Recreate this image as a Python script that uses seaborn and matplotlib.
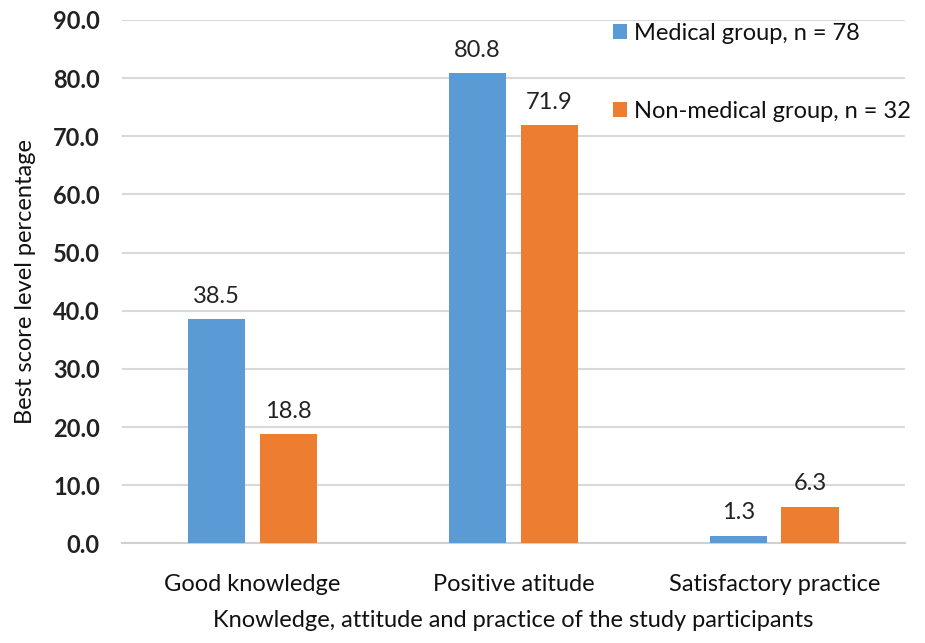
import numpy as np
import pandas as pd
import seaborn as sns
import matplotlib.pyplot as plt

categories = ["Good knowledge", "Positive atitude", "Satisfactory practice"]
groups = ["Medical group, n = 78", "Non-medical group, n = 32"]
medical = [38.5, 80.8, 1.3]
non_medical = [18.8, 71.9, 6.3]
yticks = [0, 10, 20, 30, 40, 50, 60, 70, 80, 90]

df = pd.DataFrame({
    "category": categories * 2,
    "group": [groups[0]] * 3 + [groups[1]] * 3,
    "value": medical + non_medical,
})

sns.set_theme(style="white")
plt.rcParams["font.family"] = ["Lato", "DejaVu Sans"]
fs = 17

fig = plt.figure(figsize=(9.25, 6.43), dpi=100)
ax = fig.add_axes([0.132, 0.155, 0.846, 0.814])

sns.barplot(data=df, x="category", y="value", hue="group",
            palette=["#5B9BD5", "#ED7D31"], width=0.55, gap=0.2,
            saturation=1, linewidth=0, ax=ax, zorder=3)

for cont in ax.containers:
    ax.bar_label(cont, fmt="%.1f", padding=9, fontsize=fs, color="#222222")

ax.set_ylim(0, 90)
ax.set_yticks(yticks)
ax.set_yticklabels([f"{v:.1f}" for v in yticks], fontsize=fs, fontweight="bold", color="#222222")
ax.tick_params(axis="x", labelsize=fs, colors="#111111", length=0, pad=22)
ax.tick_params(axis="y", length=0, pad=16)
ax.grid(axis="y", color="#D9D9D9", linewidth=1.5, zorder=0)
for s in ["top", "right", "left"]:
    ax.spines[s].set_visible(False)
ax.spines["bottom"].set_color("#D0D0D0")
ax.spines["bottom"].set_linewidth(1.5)

ax.set_xlabel("Knowledge, attitude and practice of the study participants", fontsize=fs, color="#111111", labelpad=11)
ax.set_ylabel("Best score level percentage", fontsize=fs, color="#111111", labelpad=12)

leg = ax.legend(loc="upper left", bbox_to_anchor=(0.6, 1.035), frameon=False,
                fontsize=fs, handlelength=0.6, handleheight=0.6, handletextpad=0.3,
                labelspacing=2.4)
for t in leg.get_texts():
    t.set_color("#111111")

fig.savefig("out.png", dpi=100)
